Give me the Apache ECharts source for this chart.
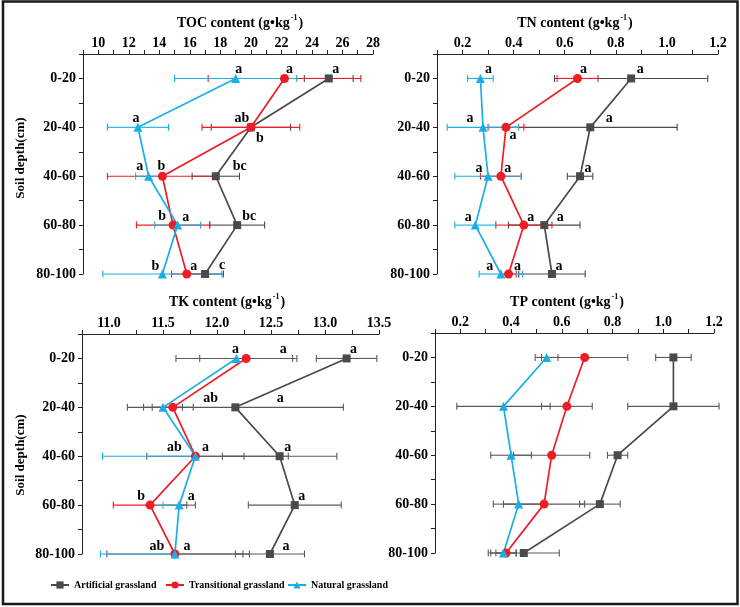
<!DOCTYPE html>
<html><head><meta charset="utf-8">
<script src="https://cdn.jsdelivr.net/npm/echarts@6/dist/echarts.min.js"></script>
<style>html,body{margin:0;padding:0;background:#fff}#c{width:740px;height:607px}</style>
</head><body><div id="c"></div>
<script>
// ---------- data ----------
const depths = ['0-20', '20-40', '40-60', '60-80', '80-100'];
const names = ['Artificial grassland', 'Transitional grassland', 'Natural grassland'];

// TOC (g/kg)
const tocArt = [25.1, 20.0, 17.7, 19.1, 17.0];
const tocArtErr = [1.6, 2.6, 1.55, 1.8, 1.2];
const tocTra = [22.2, 20.0, 14.2, 14.9, 15.8];
const tocTraErr = [5.0, 3.2, 3.6, 2.4, 1.0];
const tocNat = [19.0, 12.6, 13.3, 15.2, 14.2];
const tocNatErr = [4.0, 2.0, 0.85, 1.5, 3.9];
const tocArtLetters = ['a', 'b', 'bc', 'bc', 'c'];
const tocTraLetters = ['a', 'ab', 'b', 'b', 'a'];
const tocNatLetters = ['a', 'a', 'a', 'a', 'b'];

// TN (g/kg)
const tnArt = [0.86, 0.70, 0.66, 0.52, 0.55];
const tnArtErr = [0.30, 0.34, 0.05, 0.14, 0.13];
const tnTra = [0.65, 0.37, 0.35, 0.44, 0.38];
const tnTraErr = [0.08, 0.07, 0.08, 0.11, 0.03];
const tnNat = [0.27, 0.28, 0.30, 0.25, 0.35];
const tnNatErr = [0.05, 0.14, 0.13, 0.08, 0.085];
const tnArtLetters = ['a', 'a', 'a', 'a', 'a'];
const tnTraLetters = ['a', 'a', 'a', 'a', 'a'];
const tnNatLetters = ['a', 'a', 'a', 'a', 'a'];

// TK (g/kg)
const tkArt = [13.2, 12.17, 12.58, 12.72, 12.49];
const tkArtErr = [0.28, 1.0, 0.53, 0.43, 0.32];
const tkTra = [12.27, 11.59, 11.8, 11.38, 11.61];
const tkTraErr = [0.43, 0.19, 0.45, 0.34, 0.63];
const tkNat = [12.18, 11.5, 11.8, 11.65, 11.61];
const tkNatErr = [0.56, 0.18, 0.86, 0.15, 0.69];
const tkArtLetters = ['a', 'a', 'a', 'a', 'a'];
const tkTraLetters = ['a', 'ab', 'a', 'b', 'a'];
const tkNatLetters = ['a', '', 'ab', 'a', 'ab'];

// TP (g/kg)
const tpArt = [1.04, 1.04, 0.82, 0.75, 0.45];
const tpArtErr = [0.07, 0.18, 0.04, 0.08, 0.14];
const tpTra = [0.69, 0.62, 0.56, 0.53, 0.38];
const tpTraErr = [0.17, 0.10, 0.15, 0.16, 0.04];
const tpNat = [0.54, 0.37, 0.40, 0.43, 0.37];
const tpNatErr = [0.045, 0.184, 0.08, 0.10, 0.05];

// ---------- styling (label offsets, colours) ----------
const tocOffsets = [
  [[7, -9], [9, 11], [24, -10], [12, -9], [17, -9]],
  [[5, -9], [-9, -9], [-1, -10], [-11, -9], [7, -8]],
  [[3, -9], [-2, -9], [-9, -10], [8, -8], [-7, -8]]
];
const tnOffsets = [
  [[9, -9], [19, -9], [8, -8], [16, -8], [7, -8]],
  [[6, -9], [7, 8], [7, -8], [7, -8], [9, -8]],
  [[8, -9], [-13, -9], [-9, -8], [-7, -8], [-11, -8]]
];
const tkOffsets = [
  [[7, -9], [45, -9], [8, -9], [7, -9], [16, -8]],
  [[37, -9], [38, -9], [10, -9], [-9, -9], [12, -8]],
  [[-1, -9], [0, -9], [-21, -9], [12, -9], [-18, -8]]
];
const colors = ['#4a4a4a', '#ee1c24', '#1aaee6'];
const errGray = '#5a5a5a';
const symbols = ['rect', 'circle', 'triangle'];
const symbolSizes = [8, 9, 9];
const FONT = "'Liberation Serif','Times New Roman',serif";
// TK: which error-bar left halves are drawn in series colour (others grey)
const tkLeftColored = [[0, 0, 0, 0, 0], [0, 0, 0, 1, 0], [0, 0, 1, 1, 1]];

const fmtEven = v => (Math.round(v) % 2 === 0 ? String(Math.round(v)) : '');
const fmtTenths = v => (Math.round(v * 10) % 2 === 0 ? v.toFixed(1) : '');
const fmtHalves = v => (Math.abs(v * 2 - Math.round(v * 2)) < 1e-6 ? v.toFixed(1) : '');

const panels = [
  { grid: { left: 83, top: 54, width: 290, height: 220 }, min: 9, max: 28, interval: 1, fmt: fmtEven,
    vals: [tocArt, tocTra, tocNat], errs: [tocArtErr, tocTraErr, tocNatErr],
    letters: [tocArtLetters, tocTraLetters, tocNatLetters], offs: tocOffsets,
    errColor: (s, i, side) => colors[s] },
  { grid: { left: 437, top: 54, width: 281, height: 220 }, min: 0.1, max: 1.2, interval: 0.1, fmt: fmtTenths,
    vals: [tnArt, tnTra, tnNat], errs: [tnArtErr, tnTraErr, tnNatErr],
    letters: [tnArtLetters, tnTraLetters, tnNatLetters], offs: tnOffsets,
    errColor: (s, i, side) => colors[s] },
  { grid: { left: 82, top: 334, width: 297, height: 220 }, min: 10.75, max: 13.5, interval: 0.25, fmt: fmtHalves,
    vals: [tkArt, tkTra, tkNat], errs: [tkArtErr, tkTraErr, tkNatErr],
    letters: [tkArtLetters, tkTraLetters, tkNatLetters], offs: tkOffsets,
    errColor: (s, i, side) => (side === 'L' && tkLeftColored[s][i] ? colors[s] : errGray) },
  { grid: { left: 435, top: 333, width: 279, height: 220 }, min: 0.1, max: 1.2, interval: 0.1, fmt: fmtTenths,
    vals: [tpArt, tpTra, tpNat], errs: [tpArtErr, tpTraErr, tpNatErr],
    letters: null, offs: null,
    errColor: (s, i, side) => errGray }
];

const grids = [], xAxes = [], yAxes = [], series = [];
panels.forEach((p, g) => {
  grids.push(Object.assign({ containLabel: false }, p.grid));
  xAxes.push({
    type: 'value', gridIndex: g, position: 'top', min: p.min, max: p.max, interval: p.interval,
    axisLine: { show: true, onZero: false, lineStyle: { color: '#222', width: 1 } },
    axisTick: { show: true, inside: false, length: 4, lineStyle: { color: '#222' } },
    axisLabel: { formatter: p.fmt, margin: 4, color: '#000', fontFamily: FONT, fontWeight: 'bold', fontSize: 14 },
    splitLine: { show: false }
  });
  yAxes.push({
    type: 'value', gridIndex: g, inverse: true, min: 0.5, max: 5, interval: 0.5,
    axisLine: { show: true, onZero: false, lineStyle: { color: '#222', width: 1 } },
    axisTick: { show: true, inside: false, length: 4, lineStyle: { color: '#222' } },
    axisLabel: {
      formatter: v => (Math.abs(v - Math.round(v)) < 1e-6 ? depths[Math.round(v) - 1] : ''),
      margin: 7, color: '#000', fontFamily: FONT, fontWeight: 'bold', fontSize: 14
    },
    splitLine: { show: false }
  });
  // error bars
  for (let s = 0; s < 3; s++) {
    const vals = p.vals[s], errs = p.errs[s];
    series.push({
      type: 'custom', xAxisIndex: g, yAxisIndex: g, silent: true, z: 2,
      data: vals.map((v, i) => [v, i + 1, errs[i]]),
      renderItem: (params, api) => {
        const v = api.value(0), y = api.value(1), e = api.value(2), i = params.dataIndex;
        const L = api.coord([v - e, y]), C = api.coord([v, y]), R = api.coord([v + e, y]);
        const cl = p.errColor(s, i, 'L'), cr = p.errColor(s, i, 'R');
        const h = 3.5, w = 1.1;
        return {
          type: 'group', children: [
            { type: 'line', shape: { x1: L[0], y1: L[1], x2: C[0], y2: C[1] }, style: { stroke: cl, lineWidth: w } },
            { type: 'line', shape: { x1: C[0], y1: C[1], x2: R[0], y2: R[1] }, style: { stroke: cr, lineWidth: w } },
            { type: 'line', shape: { x1: L[0], y1: L[1] - h, x2: L[0], y2: L[1] + h }, style: { stroke: cl, lineWidth: w } },
            { type: 'line', shape: { x1: R[0], y1: R[1] - h, x2: R[0], y2: R[1] + h }, style: { stroke: cr, lineWidth: w } }
          ]
        };
      }
    });
  }
  // lines with markers and letters
  for (let s = 0; s < 3; s++) {
    series.push({
      type: 'line', name: names[s], xAxisIndex: g, yAxisIndex: g, z: 3,
      symbol: symbols[s], symbolSize: symbolSizes[s], showAllSymbol: true,
      lineStyle: { color: colors[s], width: 1.7 },
      itemStyle: { color: colors[s] },
      emphasis: { disabled: true },
      data: p.vals[s].map((v, i) => {
        const item = { value: [v, i + 1] };
        const letter = p.letters ? p.letters[s][i] : '';
        if (letter) {
          item.label = {
            show: true, position: 'inside', formatter: letter, offset: p.offs[s][i],
            color: '#000', fontFamily: FONT, fontWeight: 'bold', fontSize: 14
          };
        }
        return item;
      })
    });
  }
});

const rich = {
  t: { fontFamily: FONT, fontWeight: 'bold', fontSize: 14, color: '#000', lineHeight: 18 },
  s: { fontFamily: FONT, fontWeight: 'bold', fontSize: 8, color: '#000', verticalAlign: 'top', lineHeight: 18, padding: [0, 1, 6, 1] }
};
function titleText(x, y, name) {
  return { type: 'text', x: x, y: y, style: { text: '{t|' + name + ' content (g•kg}{s|-1}{t|)}', rich: rich, align: 'center', verticalAlign: 'middle' } };
}
function yName(x, y) {
  return { type: 'text', x: x, y: y, rotation: Math.PI / 2,
    style: { text: 'Soil depth(cm)', fontFamily: FONT, fontWeight: 'bold', fontSize: 13, fill: '#000', align: 'center', verticalAlign: 'middle' } };
}

const legendBase = {
  itemWidth: 18, itemHeight: 9, top: 580, padding: 0,
  textStyle: { fontFamily: FONT, fontWeight: 'bold', fontSize: 10, color: '#000', padding: [0, 0, 0, 0] }
};

const chart = echarts.init(document.getElementById('c'), null, { renderer: 'canvas' });
chart.setOption({
  animation: false,
  backgroundColor: '#fff',
  grid: grids, xAxis: xAxes, yAxis: yAxes, series: series,
  legend: [
    Object.assign({ left: 50, data: [names[0]] }, legendBase),
    Object.assign({ left: 165, data: [names[1]] }, legendBase),
    Object.assign({ left: 287, data: [names[2]] }, legendBase)
  ],
  graphic: [
    titleText(240, 23, 'TOC'),
    titleText(575, 23, 'TN'),
    titleText(227, 302, 'TK'),
    titleText(567, 302, 'TP'),
    yName(21, 158),
    yName(21, 455),
    { type: 'rect', shape: { x: 3, y: 1.5, width: 734.5, height: 602.5 }, style: { fill: 'none', stroke: '#1a1a1a', lineWidth: 2.5 }, silent: true }
  ]
});
</script>
</body></html>
